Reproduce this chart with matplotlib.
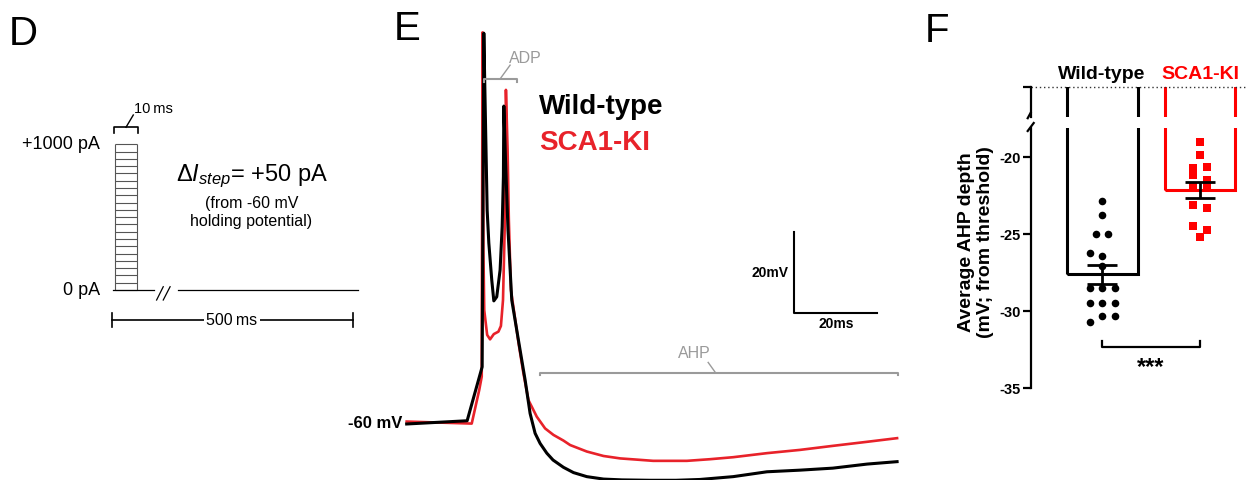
import matplotlib
matplotlib.use("Agg")
import matplotlib.pyplot as plt
import numpy as np

plt.rcParams["font.family"] = ["Liberation Sans", "DejaVu Sans"]
plt.rcParams["mathtext.fontset"] = "custom"
plt.rcParams["mathtext.rm"] = "Liberation Sans"
plt.rcParams["mathtext.it"] = "Liberation Sans:italic"
plt.rcParams["axes.unicode_minus"] = False

# ---- panel D: stimulation protocol
step_pa = 50
max_pa = 1000
pulse_ms = 10

# ---- panel E: example traces (ms, mV)
wt_t = [0.4, 14.9, 18.5, 18.9, 19.2, 19.7, 20.1, 20.8, 21.3, 22.0, 22.8, 23.3,
        23.6, 23.7, 24.1, 24.7, 25.6, 27.2, 28.8, 30.0, 31.2, 32.4, 34.0, 35.5,
        38.0, 40.4, 43.6, 47.6, 52.0, 58.8, 65.0, 70.7, 78.7, 86.8, 94.7, 102.6,
        110.8, 118.0]
wt_v = [-60.0, -59.2, -45.9, 36.5, 20.0, -7.2, -15.3, -24.4, -29.6, -28.6, -22.0, -11.3,
        1.1, 18.5, 5.2, -12.1, -29.4, -39.3, -49.1, -57.4, -62.3, -64.8, -67.2, -68.9,
        -70.7, -72.0, -73.0, -73.6, -73.8, -73.9, -73.9, -73.7, -73.0, -71.8, -71.4, -70.9,
        -69.9, -69.3]
ki_t = [0.4, 16.0, 17.8, 18.4, 18.6, 18.7, 18.8, 19.0, 19.7, 20.4, 21.3, 22.4,
        23.0, 23.5, 23.9, 24.1, 24.2, 24.6, 24.9, 25.4, 27.3, 28.4, 29.6, 31.6,
        33.6, 35.6, 38.0, 39.6, 43.6, 47.6, 51.6, 55.6, 59.5, 67.6, 73.1, 78.7,
        86.8, 94.7, 102.6, 110.8, 118.0]
ki_v = [-59.4, -59.9, -51.6, -48.3, 36.7, 20.0, -17.0, -31.9, -38.0, -39.1, -37.8, -37.2,
        -35.8, -29.4, -12.1, 7.7, 22.5, 7.7, -9.6, -26.9, -40.5, -47.5, -54.1, -58.2,
        -61.1, -62.7, -64.1, -65.2, -66.8, -67.9, -68.5, -68.8, -69.1, -69.1, -68.7, -68.2,
        -67.2, -66.4, -65.4, -64.4, -63.5]

# ---- panel F: AHP depth per cell (mV from threshold)
groups = ["Wild-type", "SCA1-KI"]
wt_ahp = [-22.84, -23.75, -25.0, -25.0, -26.2, -26.4, -27.05, -28.5, -28.5, -28.5,
          -29.5, -29.5, -29.5, -30.35, -30.35, -30.7]
ki_ahp = [-19.04, -19.87, -20.67, -20.63, -21.17, -21.49, -21.86, -21.97, -23.12,
          -23.33, -24.5, -24.74, -25.2]
# column of each dot in the scatter (layout only)
wt_col = [0, 0, -0.5, 0.5, -1, 0, 0, -1, 0, 1, -1, 0, 1, 0, 1, -1]
ki_col = [0, 0, -1, 1, -1, 1, -1, 1, -1, 1, -1, 1, 0]

BLACK = "black"
RED_E = "#e8222a"
RED_F = "#ff0000"
GREY = "#9a9a9a"

W, H = 1248, 480
fig = plt.figure(figsize=(W / 100, H / 100), dpi=100)

# panel letters
for letter, px, py in [("D", 9, 45), ("E", 394, 40), ("F", 925, 41.7)]:
    fig.text(px / W, 1 - py / H, letter, fontsize=29, va="baseline", ha="left")

# ================= D =================
axd = fig.add_axes([100 / W, 140 / H, 270 / W, 240 / H])
axd.set_xlim(-7.15, 119.0)
axd.set_ylim(-343, 1304)
axd.axis("off")
levels = np.arange(0, max_pa + step_pa, step_pa)
axd.hlines(levels, 0, pulse_ms, color="#555555", lw=0.8)
axd.vlines([0, pulse_ms], 0, max_pa, color="#555555", lw=0.8)
axd.plot([-1.2, 18.1], [0, 0], color=BLACK, lw=0.9)
axd.plot([29.2, 113.3], [0, 0], color=BLACK, lw=0.9)
axd.plot([19.3, 22.4], [-68.6, 22.6], color=BLACK, lw=0.9)
axd.plot([22.4, 25.6], [-68.6, 22.6], color=BLACK, lw=0.9)
axd.text(-7.15, max_pa, "+1000 pA", ha="right", va="center", fontsize=13)
axd.text(-7.15, 0, "0 pA", ha="right", va="center", fontsize=13)
# 10 ms bracket
axd.plot([-0.6, -0.6, 10.7, 10.7], [1075, 1117, 1117, 1075], color=BLACK, lw=1.2)
axd.plot([5.0, 8.4], [1117, 1201], color=BLACK, lw=1.0)
axd.text(17.6, 1245, "10\u2009ms", ha="center", va="center", fontsize=10.5)
axd.text(64.0, 782, r"$\Delta I_{step}$= +50 pA", ha="center", va="center", fontsize=17)
axd.text(63.5, 535, "(from -60 mV\nholding potential)", ha="center", va="center",
         fontsize=11.5, linespacing=1.25)
# 500 ms bar
axd.plot([-1.7, 110.9], [-206, -206], color=BLACK, lw=1.2)
axd.plot([-1.7, -1.7], [-254, -158], color=BLACK, lw=1.2)
axd.plot([110.9, 110.9], [-254, -158], color=BLACK, lw=1.2)
axd.text(54.5, -206, "500\u2009ms", ha="center", va="center", fontsize=11.5,
         bbox=dict(facecolor="white", edgecolor="none", pad=1.5))

# ================= E =================
axe = fig.add_axes([405 / W, 0, 495 / W, 460 / H])
axe.set_xlim(0, 118.7)
axe.set_ylim(-73.83, 39.75)
axe.axis("off")
axe.plot(ki_t, ki_v, color=RED_E, lw=1.9, clip_on=False, solid_joinstyle="round")
axe.plot(wt_t, wt_v, color=BLACK, lw=2.2, clip_on=False, solid_joinstyle="round")
axe.text(-0.6, -60, "-60 mV", ha="right", va="center", fontsize=12, fontweight="bold")
axe.text(32.2, 18.3, "Wild-type", ha="left", va="center", fontsize=20,
         fontweight="bold", color=BLACK)
axe.text(32.2, 9.4, "SCA1-KI", ha="left", va="center", fontsize=20,
         fontweight="bold", color=RED_E)
# ADP bracket
axe.plot([19.0, 19.0, 26.8, 26.8], [24.4, 25.2, 25.2, 24.4], color=GREY, lw=1.5)
axe.plot([22.8, 25.2], [25.2, 28.6], color=GREY, lw=1.0)
axe.text(25.0, 30.3, "ADP", ha="left", va="center", fontsize=11.5, color=GREY)
# AHP bracket
axe.plot([32.4, 32.4, 118.2, 118.2], [-48.0, -47.4, -47.4, -48.0], color=GREY,
         lw=1.5, clip_on=False)
axe.plot([74.3, 72.7], [-47.1, -44.8], color=GREY, lw=1.0)
axe.text(69.5, -42.6, "AHP", ha="center", va="center", fontsize=11.5, color=GREY)
# scale bar
axe.plot([93.3, 93.3, 113.3], [-12.5, -32.5, -32.5], color=BLACK, lw=1.5)
axe.text(91.9, -22.8, "20mV", ha="right", va="center", fontsize=10, fontweight="bold")
axe.text(103.3, -35.4, "20ms", ha="center", va="center", fontsize=10, fontweight="bold")

# ================= F =================
pos = np.array([0, 1])
means = np.array([np.mean(wt_ahp), np.mean(ki_ahp)])
sems = np.array([np.std(wt_ahp, ddof=1) / np.sqrt(len(wt_ahp)),
                 np.std(ki_ahp, ddof=1) / np.sqrt(len(ki_ahp))])
xlim = (-0.73, 1.46)
bar_w = 0.723

ax_lo = fig.add_axes([1030.7 / W, 92 / H, 214.3 / W, 260 / H])
ax_hi = fig.add_axes([1030.7 / W, 363.3 / H, 214.3 / W, 29.4 / H])
ax_lo.set_ylim(-35, -18.1)
ax_hi.set_ylim(-1.91, 0)

for ax in (ax_lo, ax_hi):
    ax.set_xlim(*xlim)
    ax.bar(pos, 2 - means, bottom=means, width=bar_w, fill=False,
           edgecolor=[BLACK, RED_F], lw=2.2, zorder=2)
    for s in ("top", "right", "bottom"):
        ax.spines[s].set_visible(False)
    ax.spines["left"].set_linewidth(1.6)
    ax.set_xticks([])
    ax.tick_params(axis="y", direction="out", length=5.5, width=1.6, pad=2,
                   labelsize=10.5)

ax_lo.set_yticks([-35, -30, -25, -20])
for lab in ax_lo.get_yticklabels():
    lab.set_fontweight("bold")
ax_hi.set_yticks([0])
ax_hi.set_yticklabels([])

dx_wt = 0.128
dx_ki = 0.067
ax_lo.scatter(pos[0] + dx_wt * np.array(wt_col), wt_ahp, s=30, marker="o",
              color=BLACK, linewidths=0, zorder=3)
ax_lo.scatter(pos[1] + dx_ki * np.array(ki_col), ki_ahp, s=30, marker="s",
              color=RED_F, linewidths=0, zorder=3)
ax_lo.errorbar(pos, means, yerr=sems, fmt="none", ecolor=BLACK, elinewidth=2.0,
               capsize=11, capthick=2.0, zorder=4)

# significance bracket
ax_lo.plot([0, 0, 1, 1], [-31.93, -32.36, -32.36, -31.93], color=BLACK, lw=1.6)
ax_lo.text(0.5, -33.7, "***", ha="center", va="center", fontsize=17, fontweight="bold")

# threshold line and group labels
ax_hi.axhline(0, color="#333333", lw=1.0, ls=(0, (1, 2)), clip_on=False)
for x, name, c in zip(pos, groups, [BLACK, RED_F]):
    ax_hi.annotate(name, (x, 0), xytext=(0, 9), textcoords="offset points",
                   ha="center", va="center", fontsize=14, fontweight="bold", color=c)

# axis break marks
ax_lo.plot([-3 / 214.3, 3 / 214.3], [1 - 3 / 260, 1 + 5 / 260], transform=ax_lo.transAxes,
           color=BLACK, lw=1.6, clip_on=False)
ax_hi.plot([0, -3 / 214.3], [4 / 29.4, -1.5 / 29.4], transform=ax_hi.transAxes,
           color=BLACK, lw=1.6, clip_on=False)

fig.text(976 / W, 1 - 242 / H, "Average AHP depth\n(mV; from threshold)",
         rotation=90, ha="center", va="center", fontsize=14, fontweight="bold",
         multialignment="center", linespacing=1.2)

fig.savefig("out.png", dpi=100)
